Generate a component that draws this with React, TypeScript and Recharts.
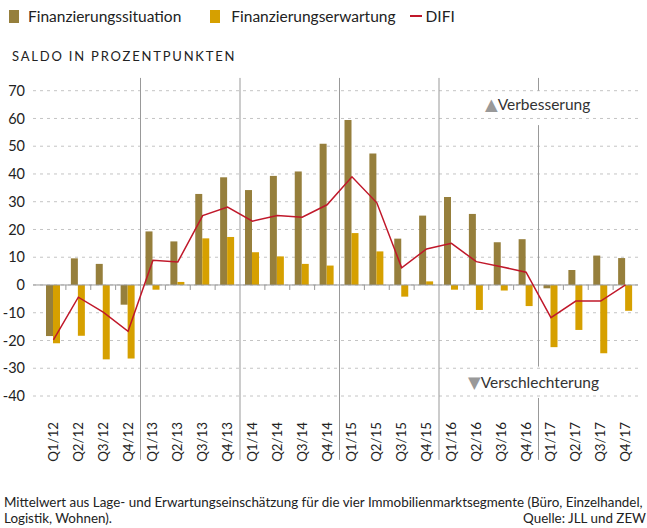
import React from 'react'
import { ComposedChart, Bar, Line, XAxis, YAxis, CartesianGrid, ReferenceLine } from 'recharts'

const quarters = [
  'Q1/12', 'Q2/12', 'Q3/12', 'Q4/12', 'Q1/13', 'Q2/13', 'Q3/13', 'Q4/13',
  'Q1/14', 'Q2/14', 'Q3/14', 'Q4/14', 'Q1/15', 'Q2/15', 'Q3/15', 'Q4/15',
  'Q1/16', 'Q2/16', 'Q3/16', 'Q4/16', 'Q1/17', 'Q2/17', 'Q3/17', 'Q4/17',
]
const situation = [-18.4, 9.6, 7.6, -7.1, 19.3, 15.7, 32.8, 38.8, 34.2, 39.3, 40.9, 50.9, 59.4, 47.4, 16.7, 25.0, 31.7, 25.6, 15.4, 16.5, -1.2, 5.4, 10.6, 9.7]
const expectation = [-21.0, -18.3, -26.8, -26.5, -1.7, 1.1, 16.8, 17.3, 11.8, 10.3, 7.6, 7.0, 18.7, 12.1, -4.2, 1.3, -1.7, -9.0, -2.0, -7.6, -22.4, -16.2, -24.6, -9.3]
const difi = [-19.8, -4.4, -9.8, -16.7, 8.9, 8.3, 25.0, 28.1, 23.0, 25.0, 24.4, 28.9, 39.0, 29.6, 6.2, 13.0, 15.0, 8.4, 6.6, 4.6, -11.8, -5.8, -5.8, 0.0]
const yTicks = [-40, -30, -20, -10, 0, 10, 20, 30, 40, 50, 60, 70]

// year separators: [from, to] segments in data units (Q1/17 is broken around the two labels)
const yearStarts = ['Q1/13', 'Q1/14', 'Q1/15', 'Q1/16']
const fullSpan = [[74.6, -63]]
const brokenSpan = [[74.6, 70], [57.6, -29.4], [-40.7, -63]]

const C_SIT = '#967F3C'
const C_ERW = '#D6A000'
const C_DIFI = '#C0182A'
const FONT = 'Lato, "Noto Sans", sans-serif'

const data = quarters.map((q, i) => ({ q, sit: situation[i], erw: expectation[i], difi: difi[i] }))

function QuarterTick(props: any) {
  const { x, y, payload } = props
  const tx = x + 4.5
  const ty = y + 18
  return (
    <text x={tx} y={ty} transform={`rotate(-90, ${tx}, ${ty})`} textAnchor="end"
      fontFamily={FONT} fontSize={13.3} fill="#222">{payload.value}</text>
  )
}

export default function App() {
  const txt = { fontFamily: FONT, color: '#222' }
  return (
    <div style={{ position: 'absolute', left: 0, top: 0, width: 647, height: 528, background: '#fff', ...txt }}>
      {/* legend */}
      <div style={{ position: 'absolute', left: 9, top: 9, display: 'flex', alignItems: 'center', fontSize: 15.5, lineHeight: '14px' }}>
        <span style={{ width: 10, height: 13, background: C_SIT, display: 'inline-block' }} />
        <span style={{ marginLeft: 9 }}>Finanzierungssituation</span>
        <span style={{ width: 10, height: 13, background: C_ERW, display: 'inline-block', marginLeft: 29 }} />
        <span style={{ marginLeft: 11 }}>Finanzierungserwartung</span>
        <span style={{ width: 12, height: 2, background: C_DIFI, display: 'inline-block', marginLeft: 14 }} />
        <span style={{ marginLeft: 4 }}>DIFI</span>
      </div>
      <div style={{ position: 'absolute', left: 12, top: 48, fontSize: 13, letterSpacing: 1.8, lineHeight: '16px' }}>
        SALDO IN PROZENTPUNKTEN
      </div>

      <div style={{ position: 'absolute', left: 0, top: 0 }}>
        <ComposedChart width={647} height={470} data={data} barSize={7} barGap={0}
          margin={{ top: 90.7, right: 9, bottom: 14, left: 0 }}>
          <CartesianGrid vertical={false} stroke="#c4c4c4" strokeDasharray="3 4" />
          <XAxis dataKey="q" interval={0} tickLine={false} axisLine={false} height={60}
            padding={{ left: 8, right: 0 }} tick={<QuarterTick />} />
          <YAxis domain={[-40, 70]} ticks={yTicks} width={33} tickLine={false} axisLine={false}
            tick={{ fontFamily: FONT, fontSize: 14.5, fill: '#222' }} />
          <ReferenceLine y={0} stroke="#999" strokeWidth={1} />
          {quarters.slice(1).filter((q, i) => (i + 1) % 4 !== 0).map(q => (
            <ReferenceLine key={'t' + q} position="start" ifOverflow="visible" stroke="#999"
              segment={[{ x: q, y: 0 }, { x: q, y: -1.8 }]} />
          ))}
          {yearStarts.map(q => fullSpan.map((s, k) => (
            <ReferenceLine key={q + k} position="start" ifOverflow="visible" stroke="#999"
              segment={[{ x: q, y: s[0] }, { x: q, y: s[1] }]} />
          )))}
          {brokenSpan.map((s, k) => (
            <ReferenceLine key={'b' + k} position="start" ifOverflow="visible" stroke="#999"
              segment={[{ x: 'Q1/17', y: s[0] }, { x: 'Q1/17', y: s[1] }]} />
          ))}
          <Bar dataKey="sit" fill={C_SIT} isAnimationActive={false} />
          <Bar dataKey="erw" fill={C_ERW} isAnimationActive={false} />
          <Line dataKey="difi" type="linear" stroke={C_DIFI} strokeWidth={1.5} dot={false} isAnimationActive={false} />
        </ComposedChart>
      </div>

      <div style={{ position: 'absolute', left: 485, top: 95, fontSize: 15.5, color: '#333', whiteSpace: 'nowrap', lineHeight: '18px' }}>
        <span style={{ fontFamily: '"DejaVu Sans"', color: '#999', fontSize: 16.5 }}>▲</span>
        <span style={{ marginLeft: 0 }}>Verbesserung</span>
      </div>
      <div style={{ position: 'absolute', left: 468, top: 373, fontSize: 15.5, color: '#333', whiteSpace: 'nowrap', lineHeight: '18px' }}>
        <span style={{ fontFamily: '"DejaVu Sans"', color: '#999', fontSize: 16.5 }}>▼</span>
        <span style={{ marginLeft: 0 }}>Verschlechterung</span>
      </div>

      <div style={{ position: 'absolute', left: 4, top: 494, width: 642, fontSize: 13.4, lineHeight: '16px' }}>
        <div style={{ whiteSpace: 'nowrap' }}>Mittelwert aus Lage- und Erwartungseinschätzung für die vier Immobilienmarktsegmente (Büro, Einzelhandel,</div>
        <div style={{ display: 'flex', justifyContent: 'space-between' }}>
          <span>Logistik, Wohnen).</span>
          <span>Quelle: JLL und ZEW</span>
        </div>
      </div>
    </div>
  )
}
